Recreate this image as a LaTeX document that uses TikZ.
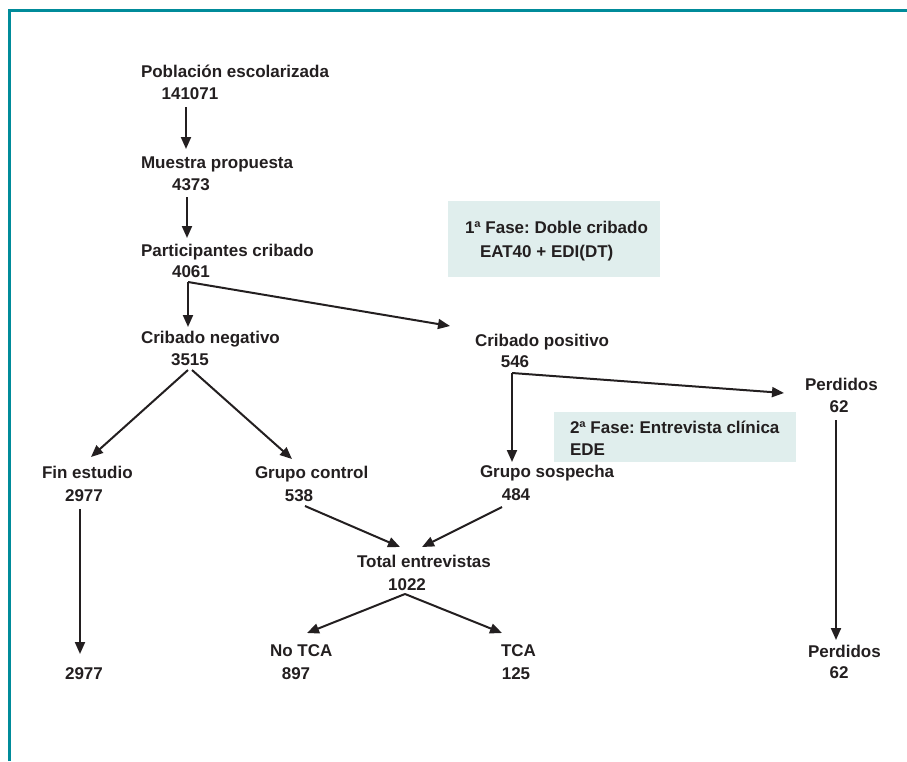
\documentclass[tikz,border=0pt]{standalone}
\usepackage{fontspec}
\setmainfont{Liberation Sans}
\usetikzlibrary{arrows.meta,calc}
\definecolor{frame}{RGB}{0,139,154}
\definecolor{phasefill}{RGB}{224,238,237}
\definecolor{ink}{RGB}{35,31,32}
\frenchspacing
\begin{document}
\begin{tikzpicture}[x=1pt,y=-1pt,
  txt/.style={inner sep=0pt, outer sep=0pt, text height=12pt, text depth=3.5pt,
              font=\bfseries\fontsize{17}{20}\selectfont, text=ink},
  lbl/.style={txt, anchor=base west},
  num/.style={txt, anchor=base},
  arr/.style={draw=ink, line width=2pt, -{Triangle[length=12pt,width=10pt]}},
  phase/.style={fill=phasefill, draw=none, inner sep=0pt, anchor=north west},
]
\useasboundingbox (0,0) rectangle (907,761);
% frame
\draw[frame, line width=3pt] (9.5,761) -- (9.5,10.5) -- (907,10.5);

% phase boxes
\node[phase, minimum width=212pt, minimum height=76pt] (ph1) at (448,201) {};
\node[lbl] (ph1a) at (465,233) {1ª Fase: Doble cribado};
\node[lbl] (ph1b) at (480,257) {EAT40 + EDI(DT)};
\node[phase, minimum width=242pt, minimum height=50pt] (ph2) at (554,412) {};
\node[lbl] (ph2a) at (570,433) {2ª Fase: Entrevista clínica};
\node[lbl] (ph2b) at (570,455) {EDE};

% text nodes
\node[lbl] (pob) at (141,77) {Población escolarizada};
\node[num] (pobn) at (190,99) {141071};
\node[lbl] (mue) at (141,168) {Muestra propuesta};
\node[num] (muen) at (191,190) {4373};
\node[lbl] (par) at (141,256) {Participantes cribado};
\node[num] (parn) at (191,277) {4061};
\node[lbl] (neg) at (141,343) {Cribado negativo};
\node[num] (negn) at (190,365) {3515};
\node[lbl] (pos) at (475,346) {Cribado positivo};
\node[num] (posn) at (515,367) {546};
\node[lbl] (per1) at (805,390) {Perdidos};
\node[num] (per1n) at (839,412) {62};
\node[lbl] (fin) at (42,478) {Fin estudio};
\node[num] (finn) at (84,501) {2977};
\node[lbl] (ctl) at (255,478) {Grupo control};
\node[num] (ctln) at (299,501) {538};
\node[lbl] (sos) at (480,477) {Grupo sospecha};
\node[num] (sosn) at (516,500) {484};
\node[lbl] (tot) at (357,567) {Total entrevistas};
\node[num] (totn) at (407,590) {1022};
\node[num] (fin2) at (84,679) {2977};
\node[lbl] (notca) at (270,656) {No TCA};
\node[num] (notcan) at (296,679) {897};
\node[lbl] (tca) at (501,656) {TCA};
\node[num] (tcan) at (516,679) {125};
\node[lbl] (per2) at (808,657) {Perdidos};
\node[num] (per2n) at (839,678) {62};

% connectors
\draw[arr] ($(pobn.south)+(-4,4.5)$) -- ($(pobn.south |- mue.north)+(-4,-7)$);
\draw[arr] ($(muen.south)+(-4,3.5)$) -- ($(muen.south |- par.north)+(-4,-6)$);
\coordinate (parfork) at ($(parn.south)+(-3,1.5)$);
\draw[arr] (parfork) -- ($(parn.south |- neg.north)+(-3,-4)$);
\draw[arr] (parfork) -- ($(pos.north west)+(-25,-8)$);
\coordinate (posfork) at ($(posn.south)+(-3,2.5)$);
\draw[arr] (posfork) -- ($(posn.south |- sos.north)+(-3,-3)$);
\draw[arr] (posfork) -- ($(per1.base west)+(-21,3)$);
\draw[arr] ($(negn.south)+(-2,1.5)$) -- ($(fin.north west)+(49,-9)$);
\draw[arr] ($(negn.south)+(2,1.5)$) -- ($(ctl.north west)+(37,-7)$);
\draw[arr] ($(finn.south)+(-4,4.5)$) -- ($(finn.south |- fin2.north)+(-4,-13)$);
\draw[arr] ($(ctln.south)+(6,1.5)$) -- ($(tot.north west)+(43,-8)$);
\draw[arr] ($(sosn.south)+(-14,3.5)$) -- ($(tot.north west)+(65,-8)$);
\draw[arr] ($(totn.south)+(-2,0.5)$) -- ($(notca.north west)+(37,-11)$);
\draw[arr] ($(totn.south)+(-2,0.5)$) -- ($(tca.north west)+(1,-11)$);
\draw[arr] ($(per1n.south)+(-3,4.5)$) -- ($(per1n.south |- per2.north)+(-3,-5)$);
\end{tikzpicture}
\end{document}
